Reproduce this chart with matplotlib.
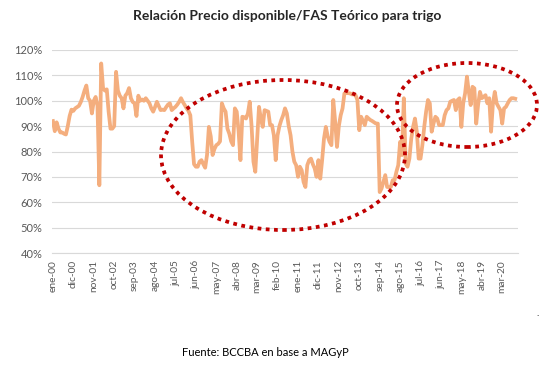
import matplotlib.pyplot as plt
from matplotlib.patches import Ellipse
from matplotlib.ticker import FuncFormatter, MultipleLocator

# --- Data (monthly ratio, ene-00 .. oct-20, in %) ---
RATIO_PCT = [
    92, 88, 91.5, 89, 87.5, 87.5, 87, 86.7, 90, 94,
    96.5, 96, 97, 97.5, 98, 99.5, 101.5, 104, 106, 101,
    100, 95, 100, 101.5, 98, 66.7, 114.7, 105, 104, 104.5,
    95.7, 89, 89, 90, 111.4, 104, 102, 101, 97, 102,
    103, 105, 101, 99.5, 99, 94, 102, 100, 100.5, 100,
    101, 100, 99, 97, 95.7, 97.5, 99.6, 98, 96.3, 96.5,
    96.3, 97.5, 98.5, 99, 96.3, 97, 97.6, 98.5, 99.6, 101,
    99.5, 98.3, 97, 96, 94.3, 84, 75, 74, 74, 76,
    76.6, 75, 73.6, 78.6, 89.7, 86, 78.6, 81, 82.5, 83,
    84, 99, 97, 95.7, 89, 87, 84, 82.5, 97, 95.7,
    88, 76.6, 93.7, 93.5, 93, 95, 99.6, 90, 76, 72,
    85, 97.6, 93, 89.7, 96.3, 96, 95.7, 90.4, 90.4, 86.4,
    76.6, 86.4, 90, 92.4, 94.3, 97, 95, 90, 86.4, 80,
    76, 74.6, 70, 74, 72.6, 68, 66, 74.6, 76.6, 77.2,
    75, 73.3, 70, 76.6, 69.3, 76.6, 85.1, 89.7, 86, 83.8,
    82.5, 100.3, 92, 81.8, 90, 94.3, 97, 102.9, 103, 103,
    102.9, 102.5, 102.5, 102.2, 100.3, 88.4, 93.7, 92, 90.4, 93.7,
    93, 92.4, 92, 91.5, 91, 91, 64, 65.4, 68, 70.7,
    66, 66, 66, 68.7, 68.7, 72, 74.6, 83.8, 78.6, 101,
    75.3, 74, 77.2, 85, 89.7, 93, 87.8, 77.2, 77.2, 82.5,
    89.7, 95.7, 100.3, 99, 87.8, 91, 93.7, 93, 90.4, 90.4,
    90.4, 94.3, 96.3, 97, 99.6, 100, 100.3, 96.3, 100.3, 101,
    89.7, 99, 102.9, 109.5, 103.5, 98.3, 105.5, 104.9, 91, 98.3,
    103.5, 101, 101.6, 102.2, 99, 101, 87.8, 99, 103.5, 99,
    97.6, 96.3, 91, 97, 97.6, 99, 100.3, 101, 101, 100.8,
]

TICK_LABELS = [
    "ene-00", "dic-00", "nov-01", "oct-02", "sep-03", "ago-04", "jul-05",
    "jun-06", "may-07", "abr-08", "mar-09", "feb-10", "ene-11", "dic-11",
    "nov-12", "oct-13", "sep-14", "ago-15", "jul-16", "jun-17", "may-18",
    "abr-19", "mar-20",
]
TICK_STEP = 11  # one label every 11 months

TITLE = "Relación Precio disponible/FAS Teórico para trigo"
SOURCE = "Fuente: BCCBA en base a MAGyP"

# --- Style ---
W, H = 552, 369
LINE_COLOR = '#F4AE7E'
GRID_COLOR = '#D9D9D9'
TEXT_COLOR = '#595959'
MARK_COLOR = '#C00000'
FONT = ['Lato', 'DejaVu Sans']


def px_ellipse(fig, cx, cy, w, h):
    """Ellipse given in reference pixels, drawn in figure coordinates."""
    return Ellipse((cx / W, 1 - cy / H), w / W, h / H, fill=False,
                   edgecolor=MARK_COLOR, linewidth=2.7,
                   linestyle=(0, (1, 1.2)), zorder=10,
                   transform=fig.transFigure)


def main():
    plt.rcParams['font.family'] = FONT
    fig = plt.figure(figsize=(W / 100, H / 100), dpi=100)
    ax = fig.add_axes([52 / W, 1 - 253 / H, (518 - 52) / W, (253 - 50) / H])

    months = list(range(len(RATIO_PCT)))
    ax.plot(months, RATIO_PCT, color=LINE_COLOR, linewidth=2.7,
            solid_joinstyle='round', zorder=3)

    ax.set_ylim(40, 120)
    ax.set_xlim(-0.5, len(RATIO_PCT) + 0.5)
    ax.yaxis.set_major_locator(MultipleLocator(10))
    ax.yaxis.set_major_formatter(FuncFormatter(lambda v, _: f"{v:.0f}%"))
    ax.grid(axis='y', color=GRID_COLOR, linewidth=0.8)
    ax.set_axisbelow(True)

    ticks = [i * TICK_STEP for i in range(len(TICK_LABELS))]
    ax.set_xticks(ticks)
    ax.set_xticklabels(TICK_LABELS, rotation=90)
    ax.tick_params(axis='x', length=0, pad=5, labelsize=7.3, labelcolor=TEXT_COLOR)
    ax.tick_params(axis='y', length=0, pad=7, labelsize=8, labelcolor=TEXT_COLOR)

    for side in ['top', 'right', 'left']:
        ax.spines[side].set_visible(False)
    ax.spines['bottom'].set_color(GRID_COLOR)
    ax.spines['bottom'].set_linewidth(0.8)

    fig.text(287 / W, 1 - 16 / H, TITLE, ha='center', va='center',
             fontsize=10, fontweight='bold', color='#262626')
    fig.text(265 / W, 1 - 353 / H, SOURCE, ha='center', va='center',
             fontsize=8, color='#000000')
    fig.text(538 / W, 1 - 314 / H, ".", ha='center', va='center',
             fontsize=7, color='#000000')

    # highlighted regions
    fig.add_artist(px_ellipse(fig, 283, 155, 244, 150))
    fig.add_artist(px_ellipse(fig, 467, 105, 140, 84))

    fig.savefig("out.png", dpi=100, facecolor='white')
    plt.close(fig)


if __name__ == "__main__":
    main()
